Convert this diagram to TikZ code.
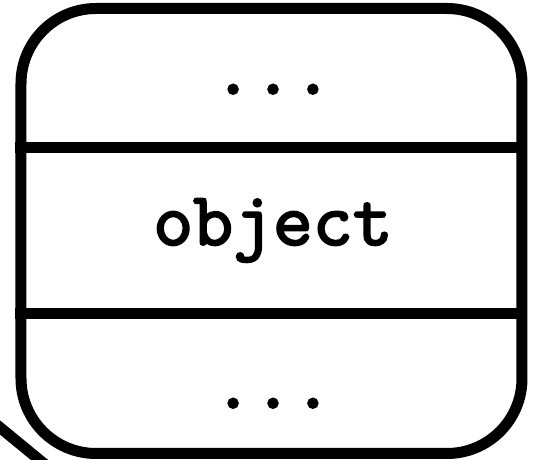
\documentclass[tikz,border=0pt]{standalone}
\usepackage{fontspec}
\newfontfamily\objfont{lmmono10-regular.otf}[FakeBold=2.5]
\usetikzlibrary{positioning}
\tikzset{
  objbox/.style={draw, line width=5.5pt, rounded corners=37.5pt,
    minimum width=250.5pt, minimum height=222.5pt, inner sep=0pt},
  divider/.style={line width=5.5pt},
  slot/.style={font=\fontsize{38}{38}\selectfont\objfont,
    anchor=base, inner sep=0pt}
}
\begin{document}
\begin{tikzpicture}[x=0.5pt,y=-0.5pt]
\useasboundingbox (0,0) rectangle (538,460);
\clip (0,0) rectangle (538,460);
% Object box
\node[objbox] (obj) at (271.5,231) {};

% Dividers between the three slots
\coordinate (d1) at (0,148);
\coordinate (d2) at (0,313.5);
\draw[divider] (obj.west |- d1) -- (obj.east |- d1);
\draw[divider] (obj.west |- d2) -- (obj.east |- d2);

% Slot texts
\node[slot] (upper) at (273,94) {...};
\node[slot] (name) at (273,245) {object};
\node[slot] (lower) at (273,408) {...};

% Link running past the lower left corner
\coordinate (l1) at (-40,394.6);
\coordinate (l2) at (80,493.3);
\draw[divider] (l1) -- (l2);
\end{tikzpicture}
\end{document}
